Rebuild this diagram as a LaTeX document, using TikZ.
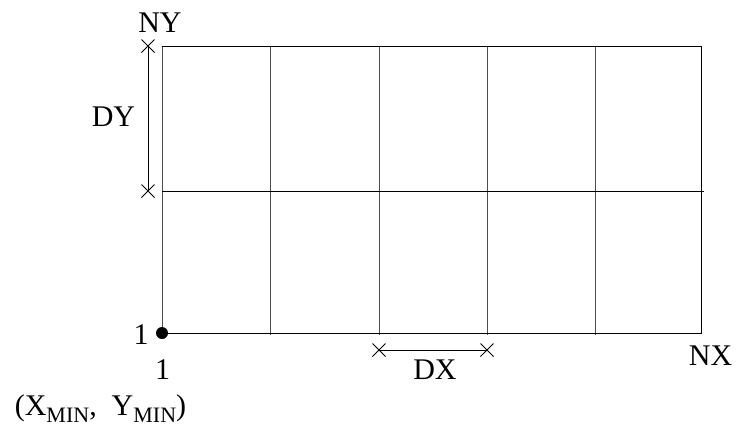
\documentclass[tikz,border=0pt]{standalone}
\usepackage{fontspec}
\setmainfont{Liberation Serif}
\usetikzlibrary{calc}
\newcommand{\subtxt}[1]{\raisebox{-7pt}{\fontsize{22}{24}\selectfont #1}}
\begin{document}
\begin{tikzpicture}[x=1pt,y=-1pt,
  lbl/.style={font=\fontsize{30}{34}\selectfont, inner sep=0pt, anchor=base},
  grid/.style={line width=0.9pt, black!70},
  edge/.style={line width=1pt, black},
  xmark/.style={line width=0.8pt, black}]
\useasboundingbox (0,0) rectangle (737,432);
% corners
\coordinate (bl) at (162,333);
\coordinate (tl) at (162,46);
\coordinate (tr) at (701,46);
\coordinate (br) at (701,333);
\coordinate (ml) at (162,191);
\coordinate (mr) at (704,191);
% vertical grid lines
\foreach \x [count=\i] in {270.5,379,487,595.5}{
  \coordinate (vt\i) at (\x,46);
  \coordinate (vb\i) at (\x,335);
  \draw[grid] (vt\i) -- (vb\i);
}
\draw[grid] (tl) -- (bl);
\draw[edge] (bl) -- (br) -- (tr) -- (tl);
\draw[edge] (ml) -- (mr);
% dot
\fill (bl) circle (6);
% DY dimension
\coordinate (dy1) at (148,46);
\coordinate (dy2) at (148,191);
\draw[xmark] (dy1) -- (dy2);
\foreach \c in {dy1,dy2}{
  \draw[xmark] ($(\c)+(-6.5,-6.5)$) -- ($(\c)+(6.5,6.5)$);
  \draw[xmark] ($(\c)+(-6.5,6.5)$) -- ($(\c)+(6.5,-6.5)$);
}
% DX dimension
\coordinate (dx1) at (379,350);
\coordinate (dx2) at (487,350);
\draw[xmark] (dx1) -- (dx2);
\foreach \c in {dx1,dx2}{
  \draw[xmark] ($(\c)+(-6.5,-6.5)$) -- ($(\c)+(6.5,6.5)$);
  \draw[xmark] ($(\c)+(-6.5,6.5)$) -- ($(\c)+(6.5,-6.5)$);
}
% labels
\node[lbl] (ny) at (160,32) {NY};
\node[lbl] (dy) at (113.5,126) {DY};
\node[lbl] (one1) at (141,344) {1};
\node[lbl] (one2) at (162.5,379) {1};
\node[lbl] (xymin) at (100.5,415) {(X\subtxt{MIN},\ \ Y\subtxt{MIN})};
\node[lbl] (dx) at (435,379) {DX};
\node[lbl] (nx) at (710.5,365) {NX};
\end{tikzpicture}
\end{document}
